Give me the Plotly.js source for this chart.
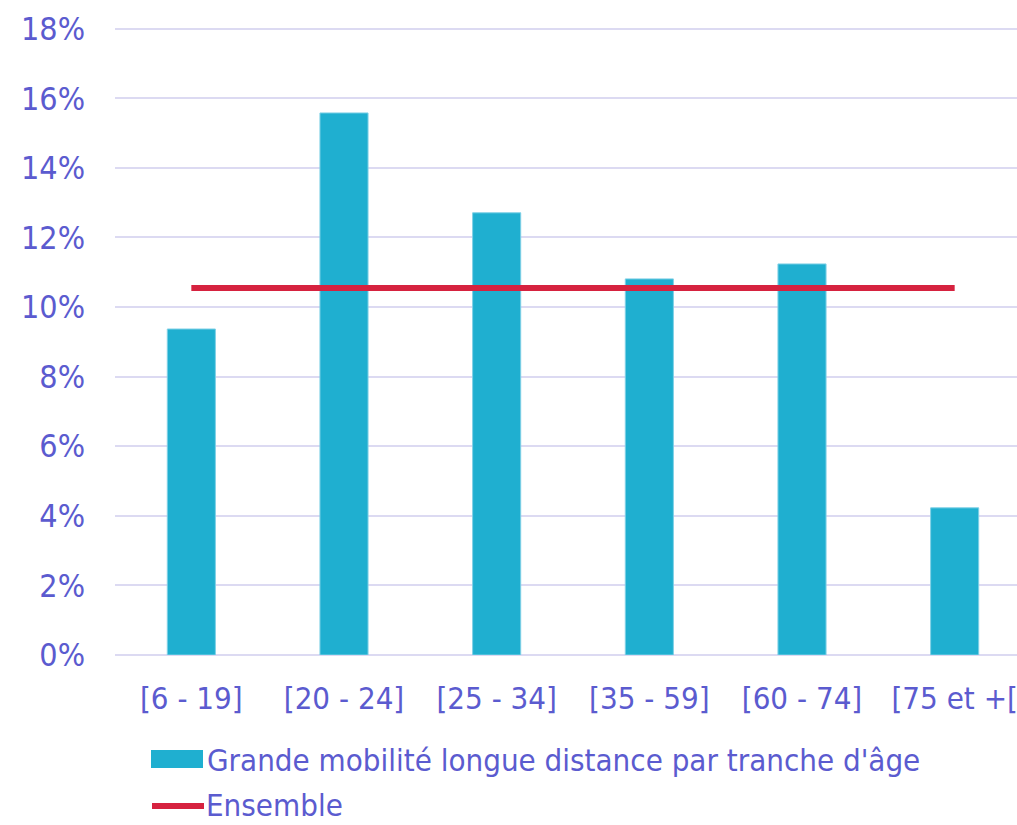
<!DOCTYPE html>
<html>
<head>
<meta charset="utf-8">
<script src="https://cdn.plot.ly/plotly-3.0.1.min.js"></script>
<style>
html,body{margin:0;padding:0;overflow:hidden;background:#fff;width:1017px;height:825px;}
#chart{width:1040px;height:825px;}
</style>
</head>
<body>
<div id="chart"></div>
<script>
// Data
var categories = ['[6 - 19]', '[20 - 24]', '[25 - 34]', '[35 - 59]', '[60 - 74]', '[75 et +['];
var barValues = [9.37, 15.58, 12.71, 10.81, 11.24, 4.23];
var ensembleValue = 10.55;
var ensembleValues = categories.map(function(){ return ensembleValue; });
var seriesNames = ["Grande mobilité longue distance par tranche d'âge", 'Ensemble'];
var yTicks = [0, 2, 4, 6, 8, 10, 12, 14, 16, 18];

var textColor = '#5B5BCF';
var barColor = '#1FAFD0';
var lineColor = '#D6223F';
var gridColor = '#DCDAF2';
var fontFamily = '"DejaVu Sans Condensed", "DejaVu Sans", sans-serif';

var traces = [
  {
    type: 'bar', x: categories, y: barValues, name: seriesNames[0],
    marker: {color: barColor, line: {color: '#7FD0E6', width: 1}},
    showlegend: false, hoverinfo: 'x+y'
  },
  {
    type: 'scatter', mode: 'lines', x: categories, y: ensembleValues, name: seriesNames[1],
    line: {color: lineColor, width: 6}, showlegend: false
  }
];

// plot area: top 27 (18.05%), bottom 655 (0%)
var plotTop = 27, plotBottom = 655, plotLeft = 115, plotW = 916;
var plotH = plotBottom - plotTop;
function py(pix){ return (plotBottom - pix) / plotH; }
function px(pix){ return (pix - plotLeft) / plotW; }

var layout = {
  width: 1040, height: 825,
  margin: {l: plotLeft, r: 1040 - plotLeft - plotW, t: plotTop, b: 825 - plotBottom},
  paper_bgcolor: '#fff', plot_bgcolor: '#fff',
  font: {family: fontFamily, color: textColor, size: 31},
  bargap: 0.685,
  xaxis: {
    type: 'category', showgrid: false, zeroline: false, showline: false,
    ticks: '', tickfont: {size: 31, color: textColor, family: fontFamily},
    ticklabelstandoff: 22
  },
  yaxis: {
    range: [0, 18.05], tickvals: yTicks, ticktext: yTicks.map(function(v){return v + '%';}),
    showgrid: true, gridcolor: gridColor, gridwidth: 2,
    zeroline: true, zerolinecolor: gridColor, zerolinewidth: 2,
    showline: false, ticks: '',
    tickfont: {size: 32, color: textColor, family: fontFamily},
    ticklabelstandoff: 29
  },
  shapes: [
    {type: 'rect', xref: 'paper', yref: 'paper',
     x0: px(151), x1: px(203), y0: py(768), y1: py(750),
     fillcolor: barColor, line: {width: 0}},
    {type: 'line', xref: 'paper', yref: 'paper',
     x0: px(152), x1: px(204), y0: py(806), y1: py(806),
     line: {color: lineColor, width: 6}}
  ],
  annotations: [
    {xref: 'paper', yref: 'paper', x: px(205), y: py(760),
     xanchor: 'left', yanchor: 'middle', showarrow: false, text: seriesNames[0],
     font: {size: 31, color: textColor, family: fontFamily}},
    {xref: 'paper', yref: 'paper', x: px(205), y: py(805),
     xanchor: 'left', yanchor: 'middle', showarrow: false, text: seriesNames[1],
     font: {size: 31, color: textColor, family: fontFamily}, borderpad: 0}
  ]
};

Plotly.newPlot('chart', traces, layout, {displayModeBar: false, staticPlot: true});
</script>
</body>
</html>
